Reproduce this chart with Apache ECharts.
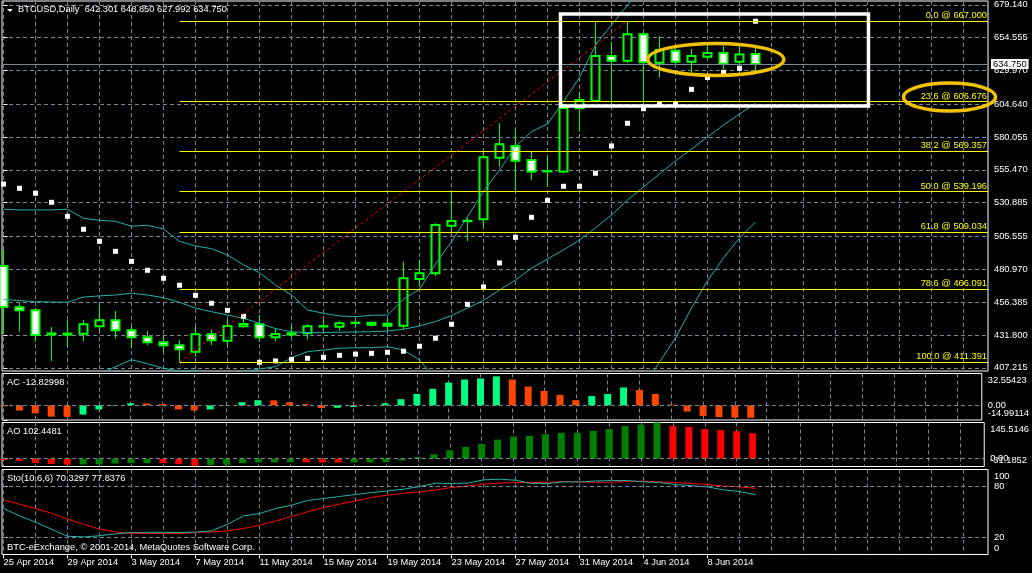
<!DOCTYPE html>
<html>
<head>
<meta charset="utf-8">
<script src="https://cdn.jsdelivr.net/npm/echarts@6.0.0/dist/echarts.min.js"></script>
<style>
html,body{margin:0;padding:0;background:#000;overflow:hidden;}
#chart{width:1032px;height:573px;}
</style>
</head>
<body>
<div id="chart"></div>
<script>
// ================= DATA =================
const symbolName = 'BTCUSD,Daily';
const firstDate = [2014, 3, 25]; // 25 Apr 2014, one bar per day

const open  = [483.5,452.6,450.3,432.2,432.9,432.8,438.3,442.8,435.4,430.1,426.4,424.1,419.3,432.4,427.6,438.3,439.8,430.1,432.2,433.1,438.2,438.1,440.9,439.6,438.8,438.8,473.8,478.1,513.7,517.1,518.5,564.6,573.4,562.9,554.3,554.2,601.6,607.3,640.8,637.3,657.0,635.8,644.8,636.5,640.3,643.0,636.5,642.301];
const high  = [495.5,455.8,452.0,437.8,443.1,443.1,453.6,449.8,438.6,434.8,431.8,428.1,438.1,436.1,443.6,444.2,446.8,436.8,438.6,440.1,443.1,442.3,443.1,441.6,443.6,486.7,488.0,515.5,539.7,519.2,569.1,590.4,586.1,569.1,565.4,604.8,613.5,666.5,651.5,667.0,658.5,655.8,647.8,646.0,650.3,648.3,648.3,648.850];
const low   = [432.6,434.3,426.8,412.4,423.1,427.3,434.8,429.4,421.9,424.3,419.3,411.391,415.6,424.3,424.3,437.1,426.6,427.3,430.4,428.6,434.8,435.1,436.8,438.1,435.6,436.1,468.0,476.0,508.5,502.2,512.2,557.9,539.9,547.9,542.9,552.8,584.1,606.5,603.5,635.5,603.0,624.8,634.6,628.3,639.1,631.1,633.8,627.992];
const close = [452.8,450.3,431.8,433.0,432.1,439.8,442.8,435.4,430.1,426.4,424.1,421.1,432.4,427.9,438.6,440.1,430.1,432.6,433.1,438.3,438.5,440.6,441.1,441.1,440.3,474.3,478.1,514.2,517.2,517.4,564.9,574.7,562.4,554.2,554.6,601.8,607.8,640.8,637.3,657.0,636.1,645.3,636.5,640.8,643.0,635.0,642.0,634.750];

const sar = [544.9,541.7,538.0,531.2,520.7,511.0,502.0,494.5,487.0,480.3,474.3,469.1,461.6,455.6,450.3,445.8,411.4,412.4,413.6,414.4,415.1,416.6,417.5,418.1,418.9,419.7,423.4,429.4,439.9,454.8,467.8,485.8,505.0,520.0,532.7,543.2,543.2,553.0,573.4,590.4,601.3,604.8,604.8,615.8,624.7,628.6,631.6,666.8];

const bbUpper  = [526.0,525.5,525.5,525.5,526.0,519.2,517.7,517.0,513.3,514.0,511.2,502.0,498.5,496.5,491.8,484.3,478.5,469.3,461.8,450.6,448.1,446.1,445.6,446.6,446.8,458.6,466.1,485.0,501.7,520.4,539.2,555.4,572.9,584.1,589.9,606.6,624.7,649.0,664.0,679.0,692.0,693.2,694.8,690.2,687.9,688.7,690.1,694.3];
const bbMiddle = [458.6,457.5,456.8,456.6,456.3,460.3,461.1,461.8,463.1,461.8,459.8,456.3,452.0,449.3,446.8,444.3,440.6,436.6,434.3,433.6,433.6,433.9,434.1,434.3,434.8,436.1,438.6,441.9,446.4,452.0,457.7,465.5,473.0,481.8,488.8,495.5,503.0,512.0,521.7,532.9,542.7,552.4,562.2,571.1,580.1,589.1,597.3,605.4];
const bbLower  = [391.2,389.5,388.1,387.7,386.6,401.4,403.0,408.0,413.3,410.4,406.7,405.0,405.5,402.1,401.8,404.3,406.4,408.1,414.8,419.3,420.6,421.9,422.3,422.3,423.1,420.6,413.1,398.8,391.1,383.6,376.2,375.6,373.1,379.5,387.7,384.4,381.3,375.0,379.4,386.8,393.4,411.6,429.6,452.0,472.3,489.5,504.5,516.5];

const ac = [-1.0,-5.3,-8.1,-11.6,-11.8,-9.5,-4.2,-0.5,2.1,1.9,1.4,-4.2,-5.3,-4.2,0.3,3.2,5.3,5.1,3.2,1.2,-2.8,-2.5,-1.6,0.2,2.1,6.3,11.6,16.9,23.2,26.4,27.5,29.6,26.4,19.3,14.8,10.6,5.3,9.5,11.6,18.3,15.8,11.6,0.8,-6.3,-10.8,-12.0,-12.5,-12.82998];
const ao = [-5.5,-8.2,-16.4,-20.6,-23.3,-23.0,-22.6,-19.2,-17.8,-17.5,-17.9,-21.9,-28.5,-25.5,-24.0,-17.8,-15.1,-14.5,-14.0,-14.6,-15.2,-15.6,-15.0,-14.6,-13.4,-6.8,6.8,17.8,34.2,48.0,58.9,76.7,89.1,91.8,98.6,104.1,104.5,112.3,119.2,131.5,137.0,145.5146,131.2,127.1,118.9,114.8,110.7,102.4481];

const stoMain   = [54.1,45.5,38.0,29.8,21.5,20.7,22.0,24.3,25.9,26.1,26.1,25.9,26.3,27.8,35.6,45.4,48.2,54.1,58.0,63.5,65.9,68.2,70.6,72.9,74.8,76.8,80.0,83.9,83.5,83.9,87.8,88.6,87.4,83.5,83.5,85.4,85.4,86.5,87.0,87.0,85.4,84.7,82.3,81.0,79.5,76.0,74.1,70.3297];
const stoSignal = [64.2,59.2,54.1,48.6,41.5,35.6,29.8,26.6,24.7,24.7,24.7,24.7,25.9,26.6,27.8,30.6,34.5,39.5,44.7,50.1,55.3,59.2,63.1,67.1,69.8,72.1,73.6,76.0,78.8,80.7,82.7,83.9,84.7,84.7,85.0,85.8,85.4,85.0,85.0,86.0,86.3,85.4,84.7,83.5,82.3,80.5,79.6,77.8376];
const stoParams = '10,6,6';
const stoLevels = [80, 20];

const priceTicks = [679.140,654.555,629.970,604.640,580.055,555.470,530.885,505.555,480.970,456.385,431.800,407.215];
const acTicks  = [0, 32.55423, -14.99114];
const aoTicks  = [0, 145.5146, -31.1852];
const stoTicks = [100, 80, 20, 0];

const fibLevels = [0.0, 23.6, 38.2, 50.0, 61.8, 78.6, 100.0];
const fibPrices = [667.000, 606.676, 569.357, 539.196, 509.034, 466.091, 411.391];

// annotations in data space: [barFrom, priceTop, barTo, priceBottom]
const rectBox  = [34.81, 672.2, 54.06, 603.3];
const ellipse1 = [40.27, 650.2, 48.77, 626.2];
const ellipse2 = [56.25, 620.6, 62.00, 599.6];

const copyright = 'BTC-eExchange, \u00A9 2001-2014, MetaQuotes Software Corp.';

// ================= CHART =================
const FONT = 'Liberation Sans';
const FS = 9.3;
const GRID_COLOR = '#778899';
const DASH = [4, 3];
const X_MIN = -0.09375, X_MAX = 61.53125;
const PRICE_MIN = 404.87, PRICE_MAX = 681.98;
const n = open.length;
const last = n - 1;

const monthNames = ['Jan','Feb','Mar','Apr','May','Jun','Jul','Aug','Sep','Oct','Nov','Dec'];
const dates = open.map((_, i) => {
  const d = new Date(Date.UTC(firstDate[0], firstDate[1], firstDate[2] + i));
  return d.getUTCDate() + ' ' + monthNames[d.getUTCMonth()] + ' ' + d.getUTCFullYear();
});

const splitTicks = [];
for (let k = 0; k <= X_MAX; k += 2) splitTicks.push(k);
const labelTicks = dates.map((_, i) => i).filter(i => i % 4 === 0);

const labelStyle = {color:'#ffffff', fontSize:FS, fontFamily:FONT};

const grids = [
  {top:1, height:370},
  {top:373.5, height:46.5},
  {top:422.5, height:44},
  {top:469.5, height:85}
].map(g => Object.assign(g, {left:2, right:44, show:true, borderColor:'#ffffff', borderWidth:1, backgroundColor:'transparent', containLabel:false}));

const xAxes = [0,1,2,3].map(g => ({
  gridIndex:g, type:'value', min:X_MIN, max:X_MAX, position: g === 3 ? 'top' : 'bottom',
  axisLine:{show:false}, axisTick:{show:false, customValues:splitTicks}, axisLabel:{show:false},
  splitLine:{show:true, lineStyle:{color:GRID_COLOR, type:DASH, width:1}}
}));
xAxes.push({
  gridIndex:3, type:'value', min:X_MIN, max:X_MAX, position:'bottom',
  axisLine:{show:false},
  axisTick:{show:true, length:4, customValues:labelTicks, lineStyle:{color:'#ffffff'}},
  axisLabel:Object.assign({show:true, customValues:labelTicks, formatter:v => dates[Math.round(v)], align:'left', margin:3}, labelStyle),
  splitLine:{show:false}
});

function edgeAxis(g, ticks, dec) {
  const hi = Math.max(...ticks), lo = Math.min(...ticks);
  return {
    gridIndex:g, type:'value', position:'right', min:lo, max:hi,
    axisLine:{show:false},
    axisTick:{show:true, length:4, customValues:ticks, lineStyle:{color:'#ffffff'}},
    axisLabel:{customValues:ticks, margin:6, showMinLabel:true, showMaxLabel:true, hideOverlap:false,
      formatter: v => {
        const s = v === 0 ? (dec ? '0.00' : '0') : v.toFixed(dec);
        if (v === hi) return '{t|' + s + '}';
        if (v === lo) return '{b|' + s + '}';
        return '{m|' + s + '}';
      }, rich:{
        t:Object.assign({padding:[13,0,0,0]}, labelStyle),
        b:Object.assign({padding:[0,0,13,0]}, labelStyle),
        m:Object.assign({}, labelStyle)
      }},
    splitLine:{show:false}
  };
}

const yAxes = [
  {gridIndex:0, type:'value', position:'right', min:PRICE_MIN, max:PRICE_MAX,
   axisLine:{show:false},
   axisTick:{show:true, length:4, customValues:priceTicks, lineStyle:{color:'#ffffff'}},
   axisLabel:Object.assign({customValues:priceTicks, formatter:v => v.toFixed(3), margin:6, showMinLabel:true, showMaxLabel:true}, labelStyle),
   splitLine:{show:true, lineStyle:{color:GRID_COLOR, type:DASH, width:1}}},
  edgeAxis(1, acTicks, 5),
  edgeAxis(2, aoTicks, 4),
  edgeAxis(3, stoTicks, 0)
];

const xy = arr => arr.map((v, i) => [i, v]);
const BB = '#20b2aa';
const bbLine = arr => ({type:'line', xAxisIndex:0, yAxisIndex:0, data:xy(arr), symbol:'none', showSymbol:false,
  lineStyle:{color:BB, width:1}, z:3, silent:true});

const lowBar = low.indexOf(Math.min(...low));
const highBar = high.indexOf(Math.max(...high));

const fibLines = fibLevels.map((lv, i) => [
  {coord:[lowBar, fibPrices[i]], symbol:'none',
   lineStyle:{color:'#ffff00', width:1, type:'solid'},
   label:Object.assign({show:true, position:'insideEndTop', distance:[1, 1],
     formatter: lv.toFixed(1) + ' @ ' + fibPrices[i].toFixed(3)}, labelStyle, {color:'#ffff00'})},
  {coord:[X_MAX, fibPrices[i]], symbol:'none'}
]);
const trendLine = [
  {coord:[lowBar, low[lowBar]], symbol:'none', lineStyle:{color:'#ff0000', width:1, type:[3,3]}, label:{show:false}},
  {coord:[highBar, high[highBar]], symbol:'none'}
];
const priceLine = [
  {coord:[X_MIN, close[last]], symbol:'none', lineStyle:{color:GRID_COLOR, width:1, type:'solid'},
   label:{show:true, position:'end', distance:3, formatter: close[last].toFixed(3),
     backgroundColor:'#ffffff', color:'#000000', fontSize:FS, fontFamily:FONT, padding:[1,2,0,2]}},
  {coord:[X_MAX, close[last]], symbol:'none'}
];

const levelLine = (vals) => ({silent:true, symbol:'none', animation:false, label:{show:false},
  lineStyle:{color:GRID_COLOR, type:DASH, width:1}, data: vals.map(v => ({yAxis:v}))});

const candleStyle = w => ({color:'#000000', color0:'#ffffff', borderColor:'#00ff00', borderColor0:'#00ff00', borderWidth:w, opacity:1});

const series = [
  // full candles (wicks)
  {type:'candlestick', xAxisIndex:0, yAxisIndex:0, data: open.map((o, i) => [i, o, close[i], low[i], high[i]]),
   encode:{x:0, y:[1,2,3,4]}, barWidth:9, z:2, silent:true, itemStyle:candleStyle(1)},
  // bodies drawn with heavier outline
  {type:'candlestick', xAxisIndex:0, yAxisIndex:0,
   data: open.map((o, i) => [i, o, close[i], Math.min(o, close[i]), Math.max(o, close[i])]),
   encode:{x:0, y:[1,2,3,4]}, barWidth:9, z:2, silent:true, itemStyle:candleStyle(2)},
  bbLine(bbUpper), bbLine(bbMiddle), bbLine(bbLower),
  {type:'scatter', xAxisIndex:0, yAxisIndex:0, data:xy(sar), symbol:'rect', symbolSize:5, clip:false, z:4, silent:true,
   itemStyle:{color:'#ffffff', opacity:1},
   markLine:{silent:true, symbol:'none', animation:false, data: fibLines.concat([trendLine, priceLine])}},
  {type:'bar', xAxisIndex:1, yAxisIndex:1, barWidth:7, silent:true,
   data: ac.map((v, i) => ({value:[i, v], itemStyle:{color: (i > 0 && v > ac[i-1]) ? '#00ff7f' : '#ff4500'}})),
   markLine: levelLine([0])},
  {type:'bar', xAxisIndex:2, yAxisIndex:2, barWidth:7, silent:true,
   data: ao.map((v, i) => ({value:[i, v], itemStyle:{color: (i > 0 && v > ao[i-1]) ? '#008000' : '#ff0000'}})),
   markLine: levelLine([0])},
  {type:'line', xAxisIndex:4, yAxisIndex:3, data:xy(stoMain), symbol:'none', lineStyle:{color:BB, width:1}, silent:true, z:3,
   markLine: levelLine(stoLevels)},
  {type:'line', xAxisIndex:4, yAxisIndex:3, data:xy(stoSignal), symbol:'none', lineStyle:{color:'#ff0000', width:1}, silent:true, z:2}
];

const chart = echarts.init(document.getElementById('chart'), null, {renderer:'canvas'});
chart.setOption({
  backgroundColor:'#000000',
  animation:false,
  textStyle:{fontFamily:FONT},
  grid: grids,
  xAxis: xAxes,
  yAxis: yAxes,
  series: series
});

// annotations placed through the chart's own scales
const px = p => chart.convertToPixel({xAxisIndex:0, yAxisIndex:0}, p);
const r0 = px([rectBox[0], rectBox[1]]), r1 = px([rectBox[2], rectBox[3]]);
const ell = (box) => {
  const a = px([box[0], box[1]]), b = px([box[2], box[3]]);
  return {type:'ellipse', z:120, silent:true,
    shape:{cx:(a[0]+b[0])/2, cy:(a[1]+b[1])/2, rx:Math.abs(b[0]-a[0])/2, ry:Math.abs(b[1]-a[1])/2},
    style:{fill:'none', stroke:'#f2c200', lineWidth:3.5}};
};
const txt = (x, y, text) => ({type:'text', x:x, y:y, z:130, silent:true,
  style:{text:text, fill:'#ffffff', fontSize:FS, fontFamily:FONT, verticalAlign:'top', align:'left'}});

chart.setOption({
  graphic: [
    {type:'rect', z:110, silent:true, shape:{x:r0[0], y:r0[1], width:r1[0]-r0[0], height:r1[1]-r0[1]},
     style:{fill:'none', stroke:'#ffffff', lineWidth:3.5}},
    ell(ellipse1), ell(ellipse2),
    {type:'polygon', z:130, silent:true, shape:{points:[[7,9],[13,9],[10,12]]}, style:{fill:'#ffffff'}},
    txt(18, 5, symbolName + '  ' + [open[last], high[last], low[last], close[last]].map(v => v.toFixed(3)).join(' ')),
    txt(7, 377.5, 'AC ' + ac[last].toFixed(5)),
    txt(7, 426.5, 'AO ' + ao[last].toFixed(4)),
    txt(7, 473.5, 'Sto(' + stoParams + ') ' + stoMain[last].toFixed(4) + ' ' + stoSignal[last].toFixed(4)),
    txt(7, 543, copyright)
  ]
});
</script>
</body>
</html>
